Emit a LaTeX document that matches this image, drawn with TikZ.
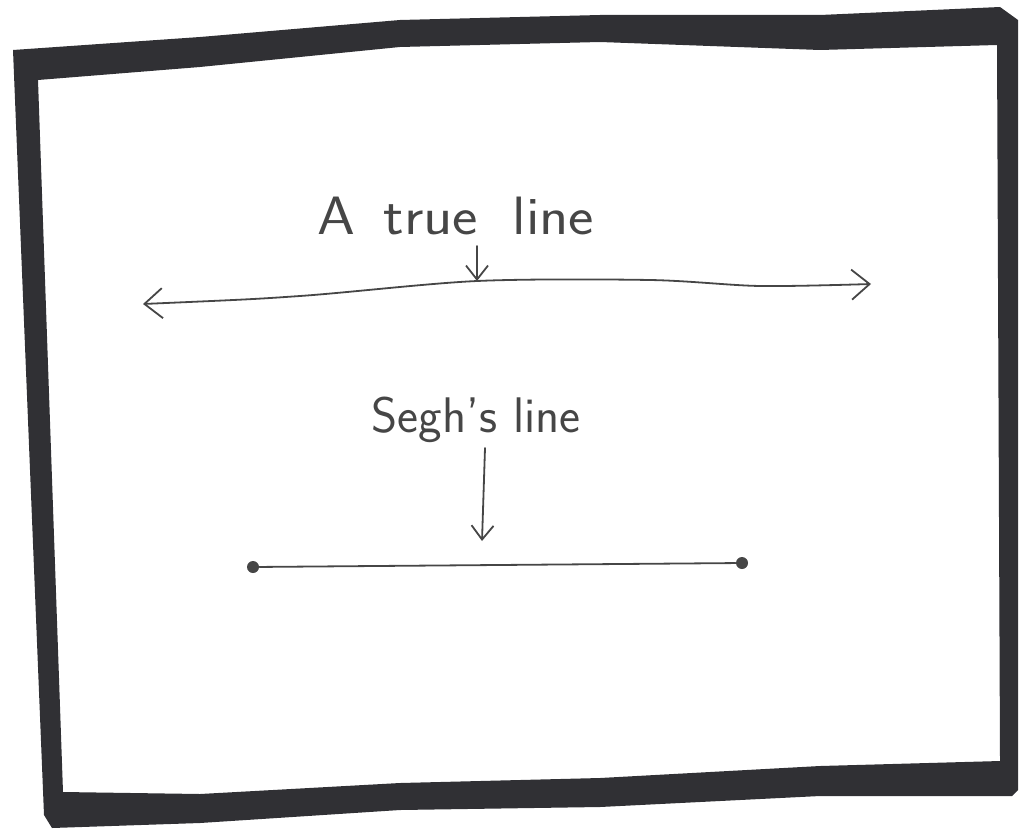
\documentclass[tikz,border=0pt]{standalone}
\usetikzlibrary{arrows.meta}
\definecolor{ink}{RGB}{48,48,52}
\definecolor{pencil}{RGB}{70,70,70}

\begin{document}
\begin{tikzpicture}[x=0.5pt, y=-0.5pt, font=\sffamily\fontsize{25}{30}\selectfont,
  pencil line/.style={draw=pencil, line width=0.9pt, line cap=round, line join=round},
  pointer/.style={pencil line, -{Straight Barb[length=7pt,width=11pt]}},
  endpoint/.style={circle, fill=pencil, inner sep=0pt, minimum size=6pt},
  label/.style={text=pencil, inner sep=0pt, anchor=base}]
\useasboundingbox (0,0) rectangle (1020,829);
\fill[ink, even odd rule]
  (13,50) -- (200,37) -- (400,20) -- (600,15) -- (820,15) -- (1000,7) -- (1018,20)
  -- (1018,790) -- (1012,796) -- (820,796) -- (600,807) -- (400,810) -- (200,823)
  -- (52,828) -- (44,815) -- cycle
  (38,80) -- (200,67) -- (400,47) -- (600,42) -- (820,50) -- (997,45)
  -- (1000,761) -- (820,766) -- (600,778) -- (400,783) -- (200,794) -- (63,792)
  -- cycle;

\node[label, font=\sffamily\fontsize{27}{32}\selectfont] (truelbl) at (456,234)
  {\scalebox{1.12}[1]{A\hspace{4pt} true\hspace{7pt} line}};
\coordinate (tl) at (477,281);
\coordinate (ta) at (143,304);
\coordinate (tb) at (871,284);
\draw[pencil line, {Straight Barb[length=9pt,width=15pt]}-{Straight Barb[length=9pt,width=15pt]}]
  plot[smooth, tension=0.5] coordinates {(ta) (300,296) (tl) (650,280) (760,286) (tb)};
\draw[pointer] ([yshift=-6pt]truelbl.base -| tl) -- (tl);

\node[label] (seglbl) at (476,432) {Segh's line};
\node[endpoint] (sa) at (253,567) {};
\node[endpoint] (sb) at (742,563) {};
\coordinate (sm) at (482,541);
\draw[pencil line] (sa) -- (sb);
\draw[pointer] (485,448) -- (sm);
\end{tikzpicture}
\end{document}
